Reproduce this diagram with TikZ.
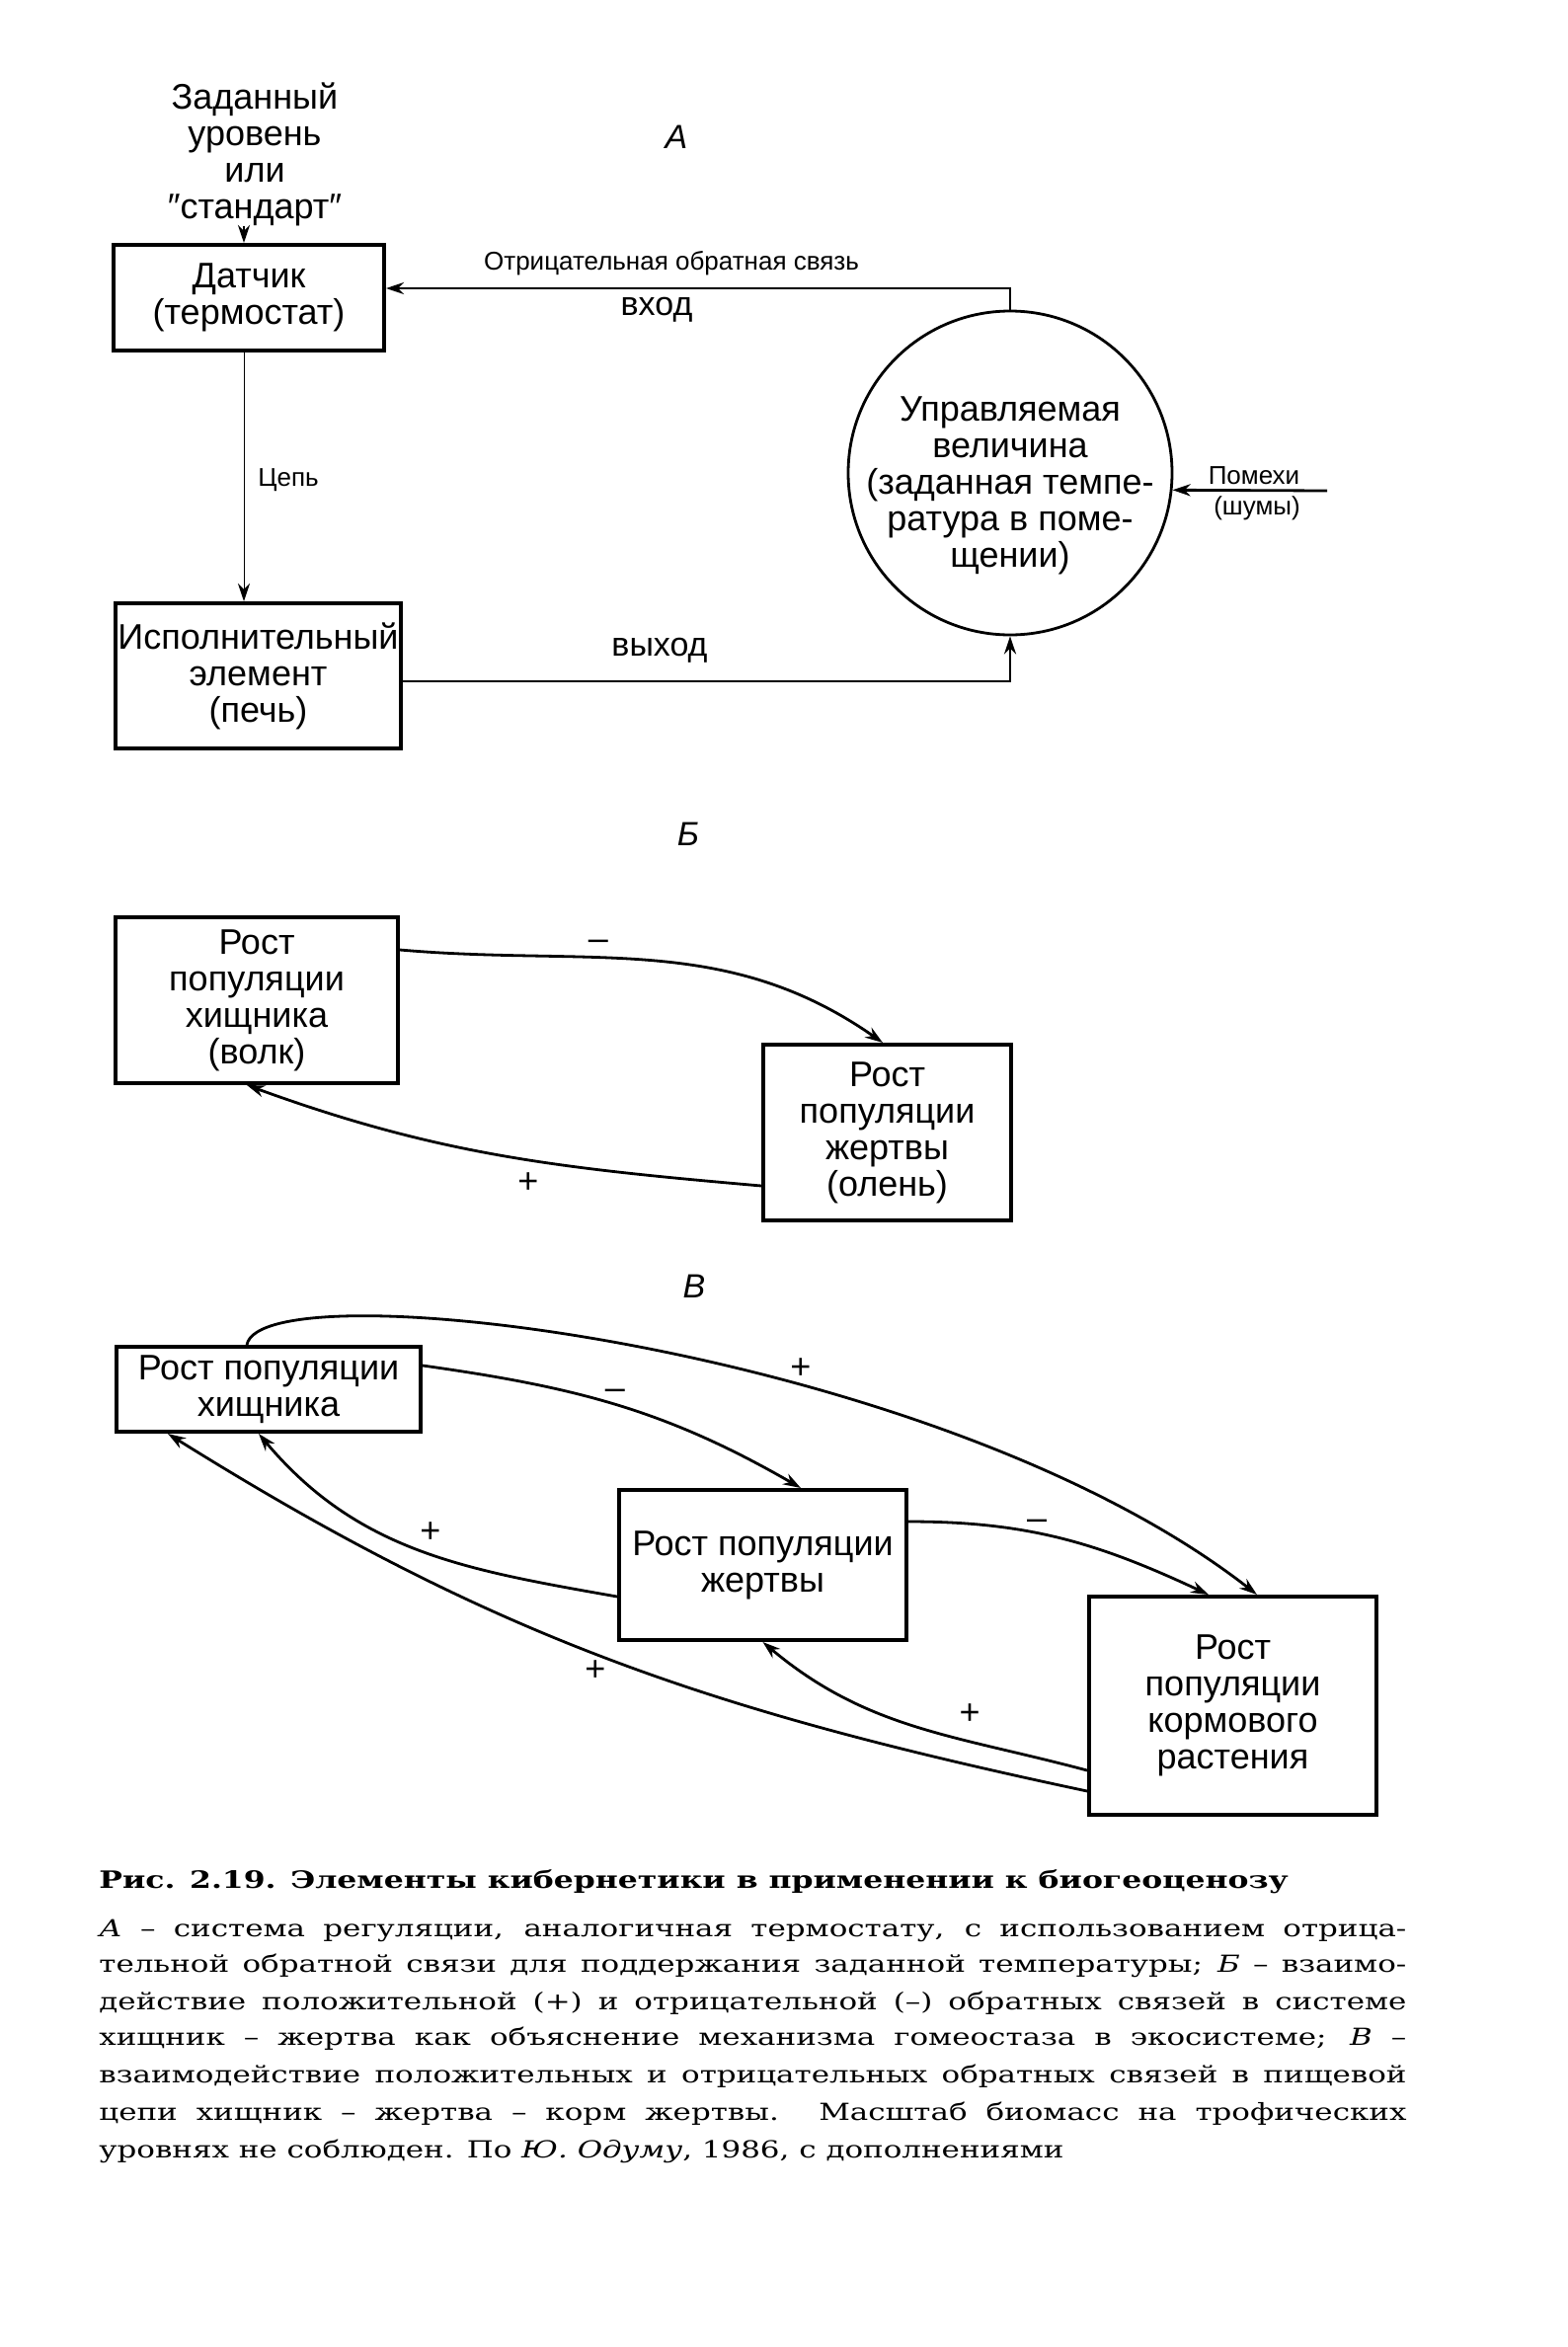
\documentclass[tikz,border=0pt]{standalone}
\usepackage{fontspec}
\setmainfont{Liberation Sans}
\newfontfamily\capfont{DejaVu Serif}[FakeStretch=1.3]
\usetikzlibrary{arrows.meta}
\tikzset{
  bx/.style={draw, line width=2pt, inner sep=0pt, align=center, font=\fontsize{18}{18.5}\selectfont},
  lbl/.style={inner sep=0pt, align=center, font=\fontsize{18}{18.5}\selectfont},
  mid/.style={inner sep=0pt, font=\fontsize{17}{17}\selectfont},
  sml/.style={inner sep=0pt, align=center, font=\fontsize{13}{14}\selectfont},
  ltr/.style={inner sep=0pt, font=\itshape\fontsize{17}{17}\selectfont},
  sgn/.style={inner sep=0pt, font=\fontsize{18}{18}\selectfont},
  conn/.style={line width=1.4pt, -{Stealth[length=9pt,width=6pt]}},
  capl/.style={inner sep=0pt, anchor=base west, font=\capfont\fontsize{11.9}{13}\selectfont},
}
\begin{document}
\begin{tikzpicture}[x=0.5pt,y=-0.5pt]
\useasboundingbox (0,0) rectangle (1588,2377);
\fill[white] (0,0) rectangle (1588,2377);

% ---------- A ----------
\node[lbl] (setp) at (258,156) {Заданный\\уровень\\или\\″стандарт″};
\node[ltr] (la) at (685,139) {А};
\node[bx, minimum width=137pt, minimum height=53.5pt] (datch) at (252,301.5) {Датчик\\(термостат)};
\node[bx, minimum width=144.5pt, minimum height=73.5pt] (ispol) at (261.5,684.5) {Исполнительный\\элемент\\(печь)};
\node[circle, draw, line width=1.4pt, minimum size=164pt, inner sep=0pt] (circ) at (1023,479) {};
\node[lbl] (circt) at (1023,492) {Управляемая\\величина\\(заданная темпе-\\ратура в поме-\\щении)};
\coordinate (pom) at (1344,497);
\coordinate (chainx) at (247,0);
\node[sml] (pomt) at (1270,482) {Помехи};
\node[sml] (shum) at (1273,515) {(шумы)};
\node[sml] (neg) at (680,267) {Отрицательная обратная связь};
\node[mid] (vhod) at (665,314) {вход};
\node[mid] (vyhod) at (668,659) {выход};
\node[sml] (cep) at (292,486) {Цепь};

\draw[conn] (setp.south -| chainx) -- (datch.north -| chainx);
\draw[conn] (circ.north) |- ([yshift=4.75pt]datch.east);
\draw[conn, line width=0.5pt] (datch.south -| chainx) -- (ispol.north -| chainx);
\draw[conn] ([yshift=-2.75pt]ispol.east) -| (circ.south);
\draw[conn] (pom) -- (circ.-6.3);

% ---------- B ----------
\node[ltr] (lb) at (697,845) {Б};
\node[bx, minimum width=143pt, minimum height=84pt] (bpred) at (260,1013) {Рост\\популяции\\хищника\\(волк)};
\node[bx, minimum width=125.5pt, minimum height=89pt] (bprey) at (898.5,1147) {Рост\\популяции\\жертвы\\(олень)};
\draw[conn] ([yshift=25.5pt]bpred.east) to[out=-5, in=145] ([xshift=-2.25pt]bprey.north);
\draw[conn] ([yshift=-27pt]bprey.west) to[out=175, in=-20] ([xshift=-5pt]bpred.south);
\node[sgn] (bm) at (606,957) {–};
\node[sgn] (bp) at (535,1198) {+};

% ---------- V ----------
\node[ltr] (lv) at (703,1303) {В};
\node[bx, minimum width=154pt, minimum height=43pt] (vpred) at (272,1407) {Рост популяции\\хищника};
\node[bx, minimum width=145.5pt, minimum height=76pt] (vprey) at (772.5,1585) {Рост популяции\\жертвы};
\node[bx, minimum width=145.5pt, minimum height=110.5pt] (vplant) at (1248.5,1727.5) {Рост\\популяции\\кормового\\растения};

\draw[conn] ([xshift=-11pt]vpred.north) .. controls +(15,-79) and +(-323,-252) .. ([xshift=12.25pt]vplant.north);
\draw[conn] ([yshift=12pt]vpred.east) to[out=-8, in=150] ([xshift=19.25pt]vprey.north);
\draw[conn] ([yshift=22pt]vprey.east) to[out=0, in=155] ([xshift=-12.25pt]vplant.north);
\draw[conn] ([yshift=-16pt]vprey.west) to[out=170, in=-50] ([xshift=-5pt]vpred.south);
\draw[conn] ([yshift=-32.75pt]vplant.west) to[out=165, in=-40] (vprey.south);
\draw[conn] ([yshift=-43.25pt]vplant.west) to[out=168, in=-32] ([xshift=-51pt]vpred.south);

\node[sgn] (s1) at (811,1386) {+};
\node[sgn] (s2) at (623,1412) {–};
\node[sgn] (s3) at (1050,1544) {–};
\node[sgn] (s4) at (436,1552) {+};
\node[sgn] (s5) at (982,1736) {+};
\node[sgn] (s6) at (603,1692) {+};

% ---------- caption ----------
\node[capl, font=\capfont\bfseries\fontsize{12.1}{13}\selectfont] (title) at (100,1912) {Рис. 2.19. Элементы кибернетики в применении к биогеоценозу};
\node[capl] (c1) at (100,1961) {\hbox to 662pt{\textit{А} – система регуляции, аналогичная термостату, с использованием отрица-}};
\node[capl] (c2) at (100,1997) {\hbox to 662pt{тельной обратной связи для поддержания заданной температуры; \textit{Б} – взаимо-}};
\node[capl] (c3) at (100,2035) {\hbox to 662pt{действие положительной (+) и отрицательной (–) обратных связей в системе}};
\node[capl] (c4) at (100,2071) {\hbox to 662pt{хищник – жертва как объяснение механизма гомеостаза в экосистеме; \textit{В} –}};
\node[capl] (c5) at (100,2109) {\hbox to 662pt{взаимодействие положительных и отрицательных обратных связей в пищевой}};
\node[capl] (c6) at (100,2147) {\hbox to 662pt{цепи хищник – жертва – корм жертвы. Масштаб биомасс на трофических}};
\node[capl] (c7) at (100,2185) {уровнях не соблюден. По \textit{Ю. Одуму}, 1986, с дополнениями};
\end{tikzpicture}
\end{document}
